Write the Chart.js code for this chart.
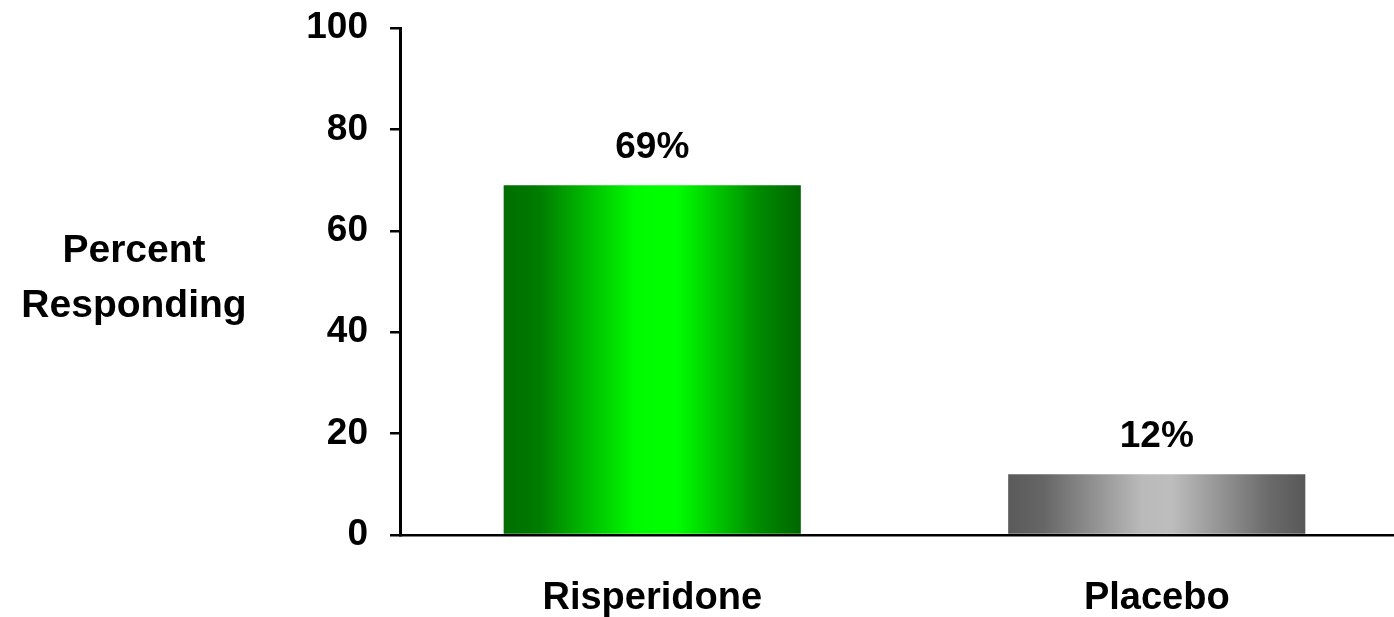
<!DOCTYPE html>
<html>
<head>
<meta charset="utf-8">
<title>Percent Responding</title>
<script src="https://cdn.jsdelivr.net/npm/chart.js@4.4.1/dist/chart.umd.min.js"></script>
<style>
  html, body { margin: 0; padding: 0; background: #fff; overflow: hidden; }
  canvas { display: block; }
</style>
</head>
<body>
<canvas id="chart" width="1410" height="617"></canvas>
<script>
// Data
const categories = ['Risperidone', 'Placebo'];
const responding = [69, 12];
const yTickValues = [0, 20, 40, 60, 80, 100];
const axisTitleLines = ['Percent', 'Responding'];

// Styling
const FONT = '"Liberation Sans", Arial, Helvetica, sans-serif';
const BAR_PCT = 0.589;
const greenStops = [[0, '#006e00'], [0.12, '#007c00'], [0.44, '#00fa00'], [0.58, '#00ff00'], [0.86, '#008a00'], [1, '#006600']];
const grayStops = [[0, '#5a5a5a'], [0.12, '#666666'], [0.45, '#bababa'], [0.55, '#bdbdbd'], [0.88, '#6a6a6a'], [1, '#585858']];
const barStops = [greenStops, grayStops];

function barGradient(ctx) {
  const chart = ctx.chart;
  const stops = barStops[ctx.dataIndex] || greenStops;
  const xs = chart.scales.x;
  if (!chart.chartArea || !xs) return stops[0][1];
  const cx = xs.getPixelForValue(ctx.dataIndex);
  const w = (xs.right - xs.left) / categories.length * BAR_PCT;
  const g = chart.ctx.createLinearGradient(cx - w / 2, 0, cx + w / 2, 0);
  stops.forEach(([o, c]) => g.addColorStop(o, c));
  return g;
}

// Value labels drawn above each bar from the same values
const valueLabelPlugin = {
  id: 'valueLabels',
  afterDatasetsDraw(chart) {
    const ctx = chart.ctx;
    const meta = chart.getDatasetMeta(0);
    ctx.save();
    ctx.font = 'bold 37px ' + FONT;
    ctx.fillStyle = '#000';
    ctx.textAlign = 'center';
    ctx.textBaseline = 'alphabetic';
    meta.data.forEach((bar, i) => {
      ctx.fillText(responding[i] + '%', bar.x, bar.y - 27);
    });
    ctx.restore();
  }
};

// Horizontal two-line axis title to the left of the value axis
const axisTitlePlugin = {
  id: 'axisTitle',
  afterDraw(chart) {
    const ctx = chart.ctx;
    ctx.save();
    ctx.font = 'bold 39px ' + FONT;
    ctx.fillStyle = '#000';
    ctx.textAlign = 'center';
    ctx.textBaseline = 'alphabetic';
    ctx.fillText(axisTitleLines[0], 134, 262);
    ctx.fillText(axisTitleLines[1], 134, 317);
    ctx.restore();
  }
};

new Chart(document.getElementById('chart'), {
  type: 'bar',
  data: {
    labels: categories,
    datasets: [{
      data: responding,
      backgroundColor: barGradient,
      borderWidth: 0,
      categoryPercentage: 1,
      barPercentage: BAR_PCT
    }]
  },
  options: {
    responsive: false,
    devicePixelRatio: 1,
    animation: false,
    layout: { padding: { top: 28, left: 0, right: 1, bottom: 0 } },
    plugins: { legend: { display: false }, tooltip: { enabled: false } },
    scales: {
      x: {
        grid: { display: false, drawTicks: false },
        border: { display: true, color: '#000', width: 2.5 },
        ticks: {
          color: '#000',
          padding: 41,
          font: { family: FONT, size: 38, weight: 'bold' }
        },
        afterFit(s) { s.height = 82; }
      },
      y: {
        min: yTickValues[0],
        max: yTickValues[yTickValues.length - 1],
        afterBuildTicks(s) { s.ticks = yTickValues.map(v => ({ value: v })); },
        grid: {
          display: true,
          drawOnChartArea: false,
          drawTicks: true,
          tickLength: 10,
          color: '#000',
          lineWidth: 2.5
        },
        border: { display: true, color: '#000', width: 3 },
        ticks: {
          color: '#000',
          padding: 22,
          font: { family: FONT, size: 37, weight: 'bold' }
        },
        afterFit(s) {
          s.width = 400;
          s.paddingTop = 0;
          s.paddingBottom = 0;
        }
      }
    }
  },
  plugins: [valueLabelPlugin, axisTitlePlugin]
});
</script>
</body>
</html>
